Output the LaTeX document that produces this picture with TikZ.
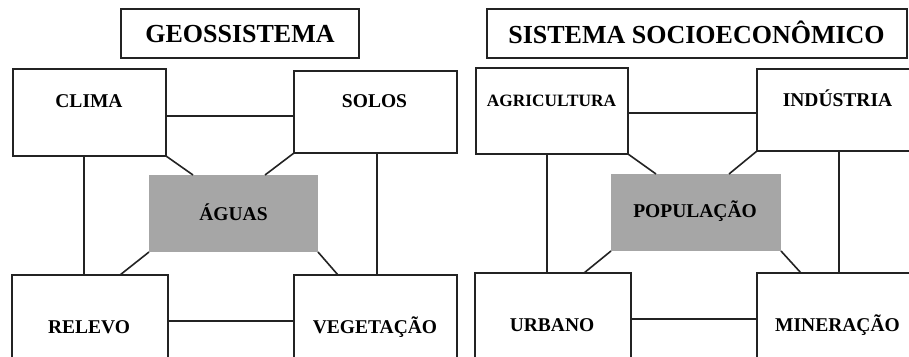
\documentclass[tikz,border=0pt]{standalone}
\usepackage{fontspec}
\setmainfont{Liberation Serif}
\definecolor{coregray}{RGB}{166,166,166}
\definecolor{inkline}{RGB}{35,35,35}
\begin{document}
\begin{tikzpicture}[x=1pt,y=-1pt,
  box/.style={draw=inkline, line width=1.6pt, fill=white, inner sep=0pt, outer sep=0pt, anchor=north west},
  core/.style={fill=coregray, inner sep=0pt, outer sep=0pt, anchor=north west},
  lbl/.style={anchor=base, inner sep=0pt, text=black, font=\bfseries\fontsize{19.5}{20}\selectfont},
  ttl/.style={anchor=base, inner sep=0pt, text=black, font=\bfseries\fontsize{26}{28}\selectfont},
  link/.style={draw=inkline, line width=1.6pt}]
\useasboundingbox (0,0) rectangle (909,356);
\fill[white] (0,0) rectangle (909,356);
\clip (0,0) rectangle (909,356);

% titles
\node[box, minimum width=238pt, minimum height=49pt] (geo) at (121,9) {};
\node[box, minimum width=420pt, minimum height=49pt] (socio) at (487,9) {};
\node[ttl] (geot) at (240,42.6) {GEOSSISTEMA};
\node[ttl] (sociot) at (696.5,43.3) {SISTEMA SOCIOECONÔMICO};

% left system boxes
\node[box, minimum width=153pt, minimum height=87pt] (clima) at (13,69) {};
\node[box, minimum width=163pt, minimum height=82pt] (solos) at (294,71) {};
\node[core, minimum width=169pt, minimum height=77pt] (aguas) at (149,175) {};
\node[box, minimum width=156pt, minimum height=120pt] (relevo) at (12,275) {};
\node[box, minimum width=163pt, minimum height=120pt] (vege) at (294,275) {};

% right system boxes
\node[box, minimum width=152pt, minimum height=86pt] (agri) at (476,68) {};
\node[box, minimum width=170pt, minimum height=82pt] (indu) at (757,69) {};
\node[core, minimum width=170pt, minimum height=77pt] (pop) at (611,174) {};
\node[box, minimum width=156pt, minimum height=120pt] (urb) at (475,273) {};
\node[box, minimum width=170pt, minimum height=120pt] (mine) at (757,273) {};

% left connectors
\draw[link] (clima.east |- 0,116) -- (solos.west |- 0,116);
\draw[link] (clima.south east) -- (aguas.north -| 193,0);
\draw[link] (solos.south west) -- (aguas.north -| 265,0);
\draw[link] (clima.south -| 84,0) -- (relevo.north -| 84,0);
\draw[link] (solos.south -| 377,0) -- (vege.north -| 377,0);
\draw[link] (aguas.south west) -- (relevo.north -| 120,0);
\draw[link] (aguas.south east) -- (vege.north -| 338,0);
\draw[link] (relevo.east |- 0,321) -- (vege.west |- 0,321);

% right connectors
\draw[link] (agri.east |- 0,113) -- (indu.west |- 0,113);
\draw[link] (agri.south east) -- (pop.north -| 656,0);
\draw[link] (indu.south west) -- (pop.north -| 729,0);
\draw[link] (agri.south -| 547,0) -- (urb.north -| 547,0);
\draw[link] (indu.south -| 839,0) -- (mine.north -| 839,0);
\draw[link] (pop.south west) -- (urb.north -| 584,0);
\draw[link] (pop.south east) -- (mine.north -| 801,0);
\draw[link] (urb.east |- 0,319) -- (mine.west |- 0,319);

% labels
\node[lbl] (climat) at (89,107.3) {CLIMA};
\node[lbl] (solost) at (374.5,107.5) {SOLOS};
\node[lbl] (aguast) at (233.5,220) {ÁGUAS};
\node[lbl] (relevot) at (89,333) {RELEVO};
\node[lbl] (veget) at (375,333) {VEGETAÇÃO};
\node[lbl, font=\bfseries\fontsize{17.3}{18}\selectfont] (agrit) at (551.5,106.7) {AGRICULTURA};
\node[lbl] (indut) at (837.5,106.5) {INDÚSTRIA};
\node[lbl] (popt) at (695,217.7) {POPULAÇÃO};
\node[lbl] (urbt) at (552,331.7) {URBANO};
\node[lbl] (minet) at (837.5,331.7) {MINERAÇÃO};
\end{tikzpicture}
\end{document}
